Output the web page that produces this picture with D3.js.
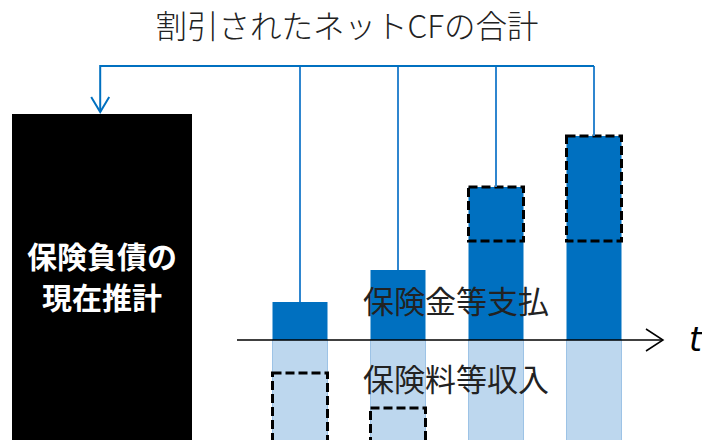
<!DOCTYPE html>
<html>
<head>
<meta charset="utf-8">
<script src="https://cdn.jsdelivr.net/npm/d3@7"></script>
<style>
  body { margin: 0; background: #fff; }
  svg { display: block; font-family: "Noto Sans CJK JP", "Noto Sans", sans-serif; }
</style>
</head>
<body>
<div id="chart"></div>
<script>
// periods along t
const periods = [1, 2, 3, 4]
// claim payments (above axis) and premium income (below axis, runs past the frame)
const payments = [38, 70, 153, 204]
const premiums = [110, 110, 110, 110]
// dashed boxes: [low, high] per period
const dashedLow = [-110, -110, 99, 99]
const dashedHigh = [-33, -68, 153, 204]
// level of the bracket that sums the discounted cash flows
const bracketLevel = 274

const titleText = '割引されたネットCFの合計'
const liabilityLines = ['保険負債の', '現在推計']
const payLabel = '保険金等支払'
const premLabel = '保険料等収入'

const width = 702
const height = 440
const darkBlue = '#0070C0'
const lightBlue = '#BDD7EE'

const svg = d3.select('#chart')
    .append('svg')
    .attr('width', width)
    .attr('height', height)

const x = d3.scalePoint()
    .domain(periods)
    .range([300, 594])
const barWidth = 55

const y = d3.scaleLinear()
    .domain([0, 204])
    .range([340, 136])

// Liability box
const liabX = d3.scaleLinear().domain([0, 1]).range([12, 192])
svg.append('rect')
    .attr('x', liabX(0))
    .attr('y', y(bracketLevel) + 48)
    .attr('width', liabX(1) - liabX(0))
    .attr('height', height)
    .attr('fill', '#000')

const liabText = svg.append('text')
    .attr('x', liabX(0.5))
    .attr('y', 268)
    .attr('text-anchor', 'middle')
    .attr('fill', '#fff')
    .style('font-size', '30px')
    .style('font-weight', 'bold')
liabText.selectAll('tspan')
    .data(liabilityLines)
    .enter()
    .append('tspan')
    .attr('x', liabX(0.5))
    .attr('dy', (d, i) => i === 0 ? 0 : 41)
    .text(d => d)

// Premium bars (light)
svg.append('g')
    .selectAll('rect')
    .data(periods)
    .enter()
    .append('rect')
    .attr('x', d => x(d) - barWidth / 2)
    .attr('y', y(0))
    .attr('width', barWidth)
    .attr('height', (d, i) => y(-premiums[i]) - y(0))
    .attr('fill', lightBlue)
    .attr('stroke', '#9DC3E6')
    .attr('stroke-width', 1)

// Payment bars (dark)
svg.append('g')
    .selectAll('rect')
    .data(periods)
    .enter()
    .append('rect')
    .attr('x', d => x(d) - barWidth / 2)
    .attr('y', (d, i) => y(payments[i]))
    .attr('width', barWidth)
    .attr('height', (d, i) => y(0) - y(payments[i]))
    .attr('fill', darkBlue)

// Dashed boxes
svg.append('g')
    .selectAll('rect')
    .data(periods)
    .enter()
    .append('rect')
    .attr('x', d => x(d) - barWidth / 2)
    .attr('y', (d, i) => y(dashedHigh[i]))
    .attr('width', barWidth)
    .attr('height', (d, i) => y(dashedLow[i]) - y(dashedHigh[i]))
    .attr('fill', 'none')
    .attr('stroke', '#000')
    .attr('stroke-width', 3)
    .attr('stroke-dasharray', '9,4')

// Connectors to the bracket
svg.append('g')
    .selectAll('line')
    .data(periods)
    .enter()
    .append('line')
    .attr('x1', d => x(d))
    .attr('x2', d => x(d))
    .attr('y1', (d, i) => y(payments[i]))
    .attr('y2', y(bracketLevel))
    .attr('stroke', '#2F86CF')
    .attr('stroke-width', 2)

svg.append('path')
    .attr('d', `M${x(periods[periods.length - 1])},${y(bracketLevel)} H${liabX(0.49)} V${y(bracketLevel) + 46}`)
    .attr('fill', 'none')
    .attr('stroke', darkBlue)
    .attr('stroke-width', 2)
svg.append('path')
    .attr('d', `M${liabX(0.49) - 9},${y(bracketLevel) + 31} L${liabX(0.49)},${y(bracketLevel) + 46} L${liabX(0.49) + 9},${y(bracketLevel) + 31}`)
    .attr('fill', 'none')
    .attr('stroke', darkBlue)
    .attr('stroke-width', 2)

// Time axis
svg.append('line')
    .attr('x1', 237)
    .attr('x2', 663)
    .attr('y1', y(0))
    .attr('y2', y(0))
    .attr('stroke', '#000')
    .attr('stroke-width', 1.5)
svg.append('path')
    .attr('d', `M646,${y(0) - 11} L663,${y(0)} L646,${y(0) + 11}`)
    .attr('fill', 'none')
    .attr('stroke', '#000')
    .attr('stroke-width', 1.5)
svg.append('text')
    .attr('x', 689)
    .attr('y', 351)
    .style('font-family', '"DejaVu Sans", sans-serif')
    .style('font-style', 'italic')
    .style('font-size', '33px')
    .attr('fill', '#000')
    .text('t')

// Labels
svg.append('text')
    .attr('x', 363)
    .attr('y', 313)
    .style('font-size', '31px')
    .attr('fill', '#222')
    .text(payLabel)
svg.append('text')
    .attr('x', 363)
    .attr('y', 391)
    .style('font-size', '31px')
    .attr('fill', '#222')
    .text(premLabel)

// Title
svg.append('text')
    .attr('x', 347)
    .attr('y', 38)
    .attr('text-anchor', 'middle')
    .style('font-size', '31.5px')
    .style('font-weight', 300)
    .attr('fill', '#222')
    .text(titleText)
</script>
</body>
</html>
